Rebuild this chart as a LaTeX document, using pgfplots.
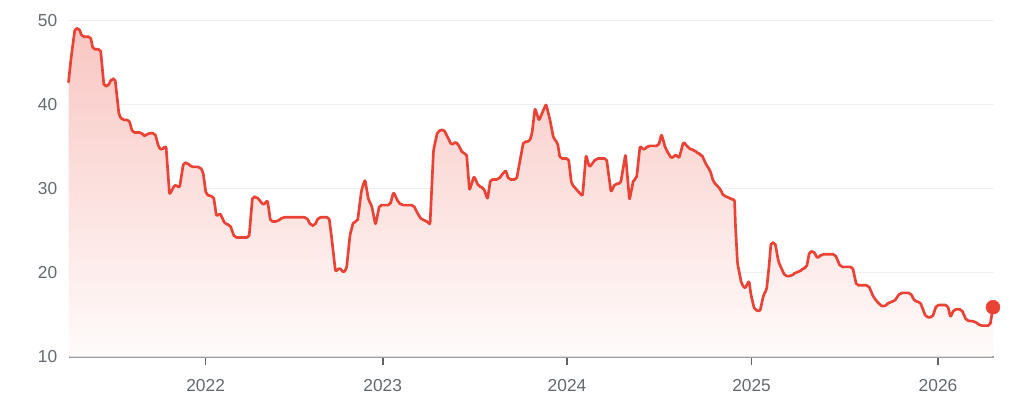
\documentclass[border=0pt]{standalone}
\usepackage{fontspec}
\setmainfont{Liberation Sans}
\usepackage{pgfplots}
\usepackage{pgfplotstable}
\pgfplotsset{compat=1.18}
\definecolor{gred}{RGB}{234,67,53}
\definecolor{gtext}{RGB}{100,105,110}
\definecolor{ggrid}{RGB}{238,239,240}
\definecolor{gaxis}{RGB}{154,160,166}
\definecolor{gtick}{RGB}{95,99,104}
\pgfplotstableread{
x y
68.5 42.7
71 45.5
75 49.1
79 49.1
82 48.1
90.5 48.1
93 46.6
100.5 46.6
104 42.2
108 42.2
111.5 43.1
115 43.1
119 38.8
122 38.2
129 38.2
132.5 36.7
141.5 36.7
144.5 36.2
147.5 36.6
155 36.6
158.5 35.0
161 34.6
166 35.1
169.5 29.3
175 30.5
179.5 30.1
183.5 33.1
187.5 33.1
191 32.6
200 32.6
203 32.0
206 29.4
209.5 29.1
213.5 29.1
216.5 26.7
220 27.1
225 25.8
230 25.7
234.5 24.2
249 24.2
252.5 29.05
256.5 29.05
263.5 28.05
267.5 28.65
270.5 26.1
277.5 26.1
282.5 26.6
306.5 26.6
311 25.6
314.5 25.6
318.5 26.6
329 26.6
331.5 24.3
335.5 20.1
339.5 20.6
343.5 20.0
346.5 20.5
350 24.5
353.5 26.1
357.5 26.1
361.5 29.85
365 31.1
368.5 28.65
371.5 28.05
375.5 25.7
379.5 28.05
390 28.05
393.5 29.6
398.5 28.35
401.5 28.05
413.5 28.05
416.5 27.3
421.5 26.3
426.5 26.2
430 25.7
433.5 34.6
437.5 36.8
443.5 37.1
446.5 36.4
451.5 35.2
456 35.6
460 34.9
462.5 34.2
466.5 34.2
469.5 29.8
474 31.5
478.5 30.3
483.5 30.1
487.5 28.75
490.5 31.1
498.5 31.1
504 32.0
506 32.15
508.5 31.1
516.5 31.1
523.5 35.6
529.5 35.6
532 36.6
535 39.6
539 38.1
546 40.1
550 38.2
553.5 36.0
557.5 35.5
560 33.6
568.5 33.6
571.5 30.6
576.5 29.9
582.5 29.1
586 34.0
589.5 32.55
596 33.6
606.5 33.6
611 29.6
615 30.6
620.5 30.6
625.5 34.1
629.5 28.65
633.5 31.1
636.5 31.2
640 35.1
644 34.6
647.5 35.1
658.5 35.1
661.5 36.5
665.5 34.8
671.5 33.6
676 34.1
679 33.6
683.5 35.6
687.5 35.0
691.5 34.6
695 34.6
698.5 34.1
701.5 34.1
706.5 32.8
710 32.2
713.5 30.8
718.5 30.2
721 29.8
723.5 29.1
727.5 29.1
730 28.75
734.5 28.75
735.5 25.5
737.5 21.1
741.5 18.7
745 18.1
749 19.05
751 17.35
754.5 15.6
760 15.4
763.5 17.35
766.5 17.95
769 20.7
771 23.6
775 23.6
778.5 21.3
781.5 20.5
785 19.6
791.5 19.6
796 20.1
800 20.1
803.5 20.6
806.5 20.6
809.5 22.5
813.5 22.6
817.5 21.7
821.5 22.2
835 22.2
840.5 20.7
852.5 20.7
856.5 18.5
868.5 18.5
873.5 17.1
878.5 16.35
883.5 15.9
890 16.55
894 16.55
900 17.6
910.5 17.6
915 16.55
920 16.55
926 14.7
932.5 14.7
936.5 16.15
947.5 16.15
950.5 14.7
954 15.65
961.5 15.65
966.5 14.3
975 14.2
980 13.7
990 13.7
993 15.9
}\pricedata
\begin{document}
\begin{tikzpicture}
\path[use as bounding box] (0,0) rectangle (771.75pt,302.25pt);
\begin{axis}[
  at={(51.4pt,34.7pt)}, anchor=south west,
  scale only axis, width=693.8pt, height=252pt,
  xmin=68.5, xmax=993.6, ymin=10, ymax=50,
  clip=false,
  axis x line*=bottom, axis y line*=left,
  x axis line style={-, draw=gaxis, line width=1.3pt},
  y axis line style={draw=none},
  xtick={205.6,382.7,567,751.6,938},
  xticklabels={2022,2023,2024,2025,2026},
  ytick={10,20,30,40,50},
  ymajorgrids, grid style={ggrid, line width=0.8pt},
  xtick align=outside, major tick length=6pt,
  xtick style={draw=gtick, line width=1.3pt},
  ytick style={draw=none},
  tick label style={font=\fontsize{13}{15}\selectfont, text=gtext},
  xticklabel style={anchor=north, yshift=-7.5pt},
  yticklabel style={anchor=east, xshift=-5pt},
  /pgf/number format/assume math mode=true,
]
\addplot[draw=none, top color=gred!30!white, bottom color=gred!2!white, rounded corners=1.5pt] table {\pricedata} \closedcycle;
\addplot[gred, line width=2pt, line join=round, line cap=round, rounded corners=1.5pt] table {\pricedata};
\addplot[only marks, mark=*, mark size=5.2pt, gred, mark options={draw=gred, fill=gred}] coordinates {(993,15.9)};
\end{axis}
\end{tikzpicture}
\end{document}
